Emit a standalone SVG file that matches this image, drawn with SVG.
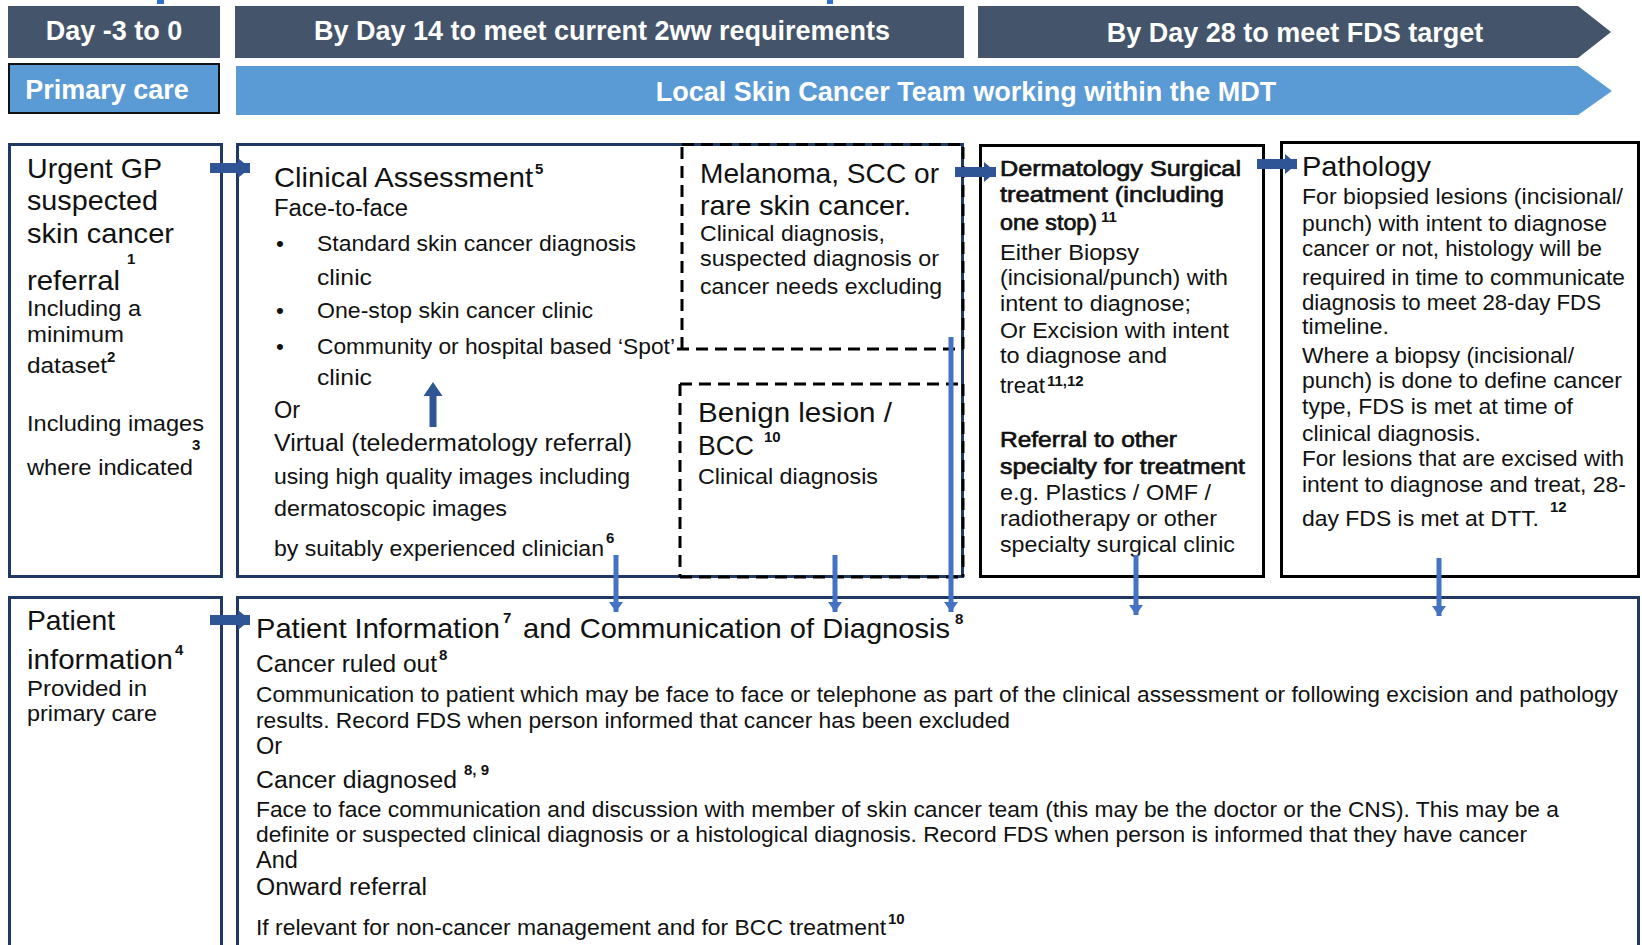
<svg xmlns="http://www.w3.org/2000/svg" width="1642" height="945" viewBox="0 0 1642 945">
  <style>
    text { font-family: "Liberation Sans", Arial, sans-serif; fill: #111111; }
    .hdr { font-size: 27px; font-weight: bold; fill: #ffffff; text-anchor: middle; }
    .h { font-size: 28px; }
    .b { font-size: 22.5px; }
    .m { font-size: 23.5px; }
    .bb { font-size: 22.5px; stroke: #111111; stroke-width: 0.7; }
    .sup { font-size: 15px; font-weight: bold; }
    .supb { font-size: 15px; font-weight: bold; }
    .navy { fill: none; stroke: #1F3864; stroke-width: 3; }
    .blk { fill: none; stroke: #000000; stroke-width: 3; }
    .dash { fill: none; stroke: #000000; stroke-width: 3; stroke-dasharray: 12 7; }
    .down { stroke: #4472C4; stroke-width: 5; fill: none; marker-end: url(#dnHead); }
    .right { stroke: #2F5597; stroke-width: 10; fill: none; marker-end: url(#rtHead); }
  </style>
  <defs>
    <marker id="dnHead" markerUnits="userSpaceOnUse" viewBox="0 0 10 14" refX="10" refY="7" markerWidth="10" markerHeight="14" orient="auto">
      <path d="M0,0 L10,7 L0,14 Z" fill="#4472C4"/>
    </marker>
    <marker id="rtHead" markerUnits="userSpaceOnUse" viewBox="0 0 12 20" refX="12" refY="10" markerWidth="12" markerHeight="20" orient="auto">
      <path d="M0,0 L12,10 L0,20 Z" fill="#2F5597"/>
    </marker>
  </defs>

  <rect width="1642" height="945" fill="#ffffff"/>

  <!-- small marks on the top edge -->
  <rect x="157" y="0" width="7" height="4" fill="#2F6FD0"/>
  <rect x="827" y="0" width="6" height="4" fill="#2F6FD0"/>

  <!-- timeline header -->
  <g id="hdr-day0">
    <rect x="8" y="6" width="212" height="52" fill="#44546A"/>
    <text class="hdr" x="114" y="40">Day -3 to 0</text>
  </g>
  <g id="hdr-day14">
    <rect x="235" y="6" width="729" height="52" fill="#44546A"/>
    <text class="hdr" x="602" y="40">By Day 14 to meet current 2ww requirements</text>
  </g>
  <g id="hdr-day28">
    <polygon points="978,6 1578,6 1611,32 1578,58 978,58" fill="#44546A"/>
    <text class="hdr" x="1295" y="42">By Day 28 to meet FDS target</text>
  </g>
  <g id="hdr-primary">
    <rect x="9" y="64" width="210" height="49" fill="#5B9BD5" stroke="#111111" stroke-width="2"/>
    <text class="hdr" x="107" y="99">Primary care</text>
  </g>
  <g id="hdr-local">
    <polygon points="236,66 1578,66 1612,91 1578,115 236,115" fill="#5B9BD5"/>
    <text class="hdr" x="966" y="101">Local Skin Cancer Team working within the MDT</text>
  </g>

  <!-- referral -->
  <g id="gp-referral">
    <rect class="navy" x="9.5" y="144.5" width="212" height="432"/>
    <text class="h" x="27" y="178" textLength="135" lengthAdjust="spacingAndGlyphs">Urgent GP</text>
    <text class="h" x="27" y="210" textLength="131" lengthAdjust="spacingAndGlyphs">suspected</text>
    <text class="h" x="27" y="243" textLength="147" lengthAdjust="spacingAndGlyphs">skin cancer</text>
    <text class="sup" x="127" y="264">1</text>
    <text class="h" x="27" y="290" textLength="93" lengthAdjust="spacingAndGlyphs">referral</text>
    <text class="b" x="27" y="316" textLength="114" lengthAdjust="spacingAndGlyphs">Including a</text>
    <text class="b" x="27" y="342" textLength="97" lengthAdjust="spacingAndGlyphs">minimum</text>
    <text class="b" x="27" y="373" textLength="80" lengthAdjust="spacingAndGlyphs">dataset</text>
    <text class="sup" x="107" y="362">2</text>
    <text class="b" x="27" y="431" textLength="177" lengthAdjust="spacingAndGlyphs">Including images</text>
    <text class="sup" x="192" y="450">3</text>
    <text class="b" x="27" y="475" textLength="166" lengthAdjust="spacingAndGlyphs">where indicated</text>
  </g>

  <!-- clinical assessment -->
  <g id="clinical-assessment">
    <rect class="navy" x="237.5" y="144.5" width="725" height="432"/>
    <text class="h" x="274" y="187" textLength="259" lengthAdjust="spacingAndGlyphs">Clinical Assessment</text>
    <text class="sup" x="535" y="174">5</text>
    <text class="m" x="274" y="216" textLength="134" lengthAdjust="spacingAndGlyphs">Face-to-face</text>
    <text class="b" x="276" y="251">•</text>
    <text class="b" x="317" y="251" textLength="319" lengthAdjust="spacingAndGlyphs">Standard skin cancer diagnosis</text>
    <text class="b" x="317" y="285" textLength="55" lengthAdjust="spacingAndGlyphs">clinic</text>
    <text class="b" x="276" y="318">•</text>
    <text class="b" x="317" y="318" textLength="276" lengthAdjust="spacingAndGlyphs">One-stop skin cancer clinic</text>
    <text class="b" x="276" y="354">•</text>
    <text class="b" x="317" y="354" textLength="358" lengthAdjust="spacingAndGlyphs">Community or hospital based ‘Spot’</text>
    <text class="b" x="317" y="385" textLength="55" lengthAdjust="spacingAndGlyphs">clinic</text>
    <text class="m" x="274" y="418">Or</text>
    <text class="m" x="274" y="451" textLength="358" lengthAdjust="spacingAndGlyphs">Virtual (teledermatology referral)</text>
    <text class="b" x="274" y="484" textLength="356" lengthAdjust="spacingAndGlyphs">using high quality images including</text>
    <text class="b" x="274" y="516" textLength="233" lengthAdjust="spacingAndGlyphs">dermatoscopic images</text>
    <text class="b" x="274" y="556" textLength="330" lengthAdjust="spacingAndGlyphs">by suitably experienced clinician</text>
    <text class="sup" x="606" y="543">6</text>
    <!-- upward arrow -->
    <path d="M429.5,427 V396 H423.5 L433,382 L442.5,396 H436.5 V427 Z" fill="#2F5597"/>
  </g>

  <!-- melanoma / scc -->
  <g id="melanoma">
    <path class="dash" d="M682,147 V349 M677,349 H963 M682,144.5 H963 M963,147 V349"/>
    <text class="h" x="700" y="183" textLength="239" lengthAdjust="spacingAndGlyphs">Melanoma,  SCC or</text>
    <text class="h" x="700" y="215" textLength="211" lengthAdjust="spacingAndGlyphs">rare skin cancer.</text>
    <text class="b" x="700" y="241" textLength="185" lengthAdjust="spacingAndGlyphs">Clinical diagnosis,</text>
    <text class="b" x="700" y="266" textLength="239" lengthAdjust="spacingAndGlyphs">suspected diagnosis or</text>
    <text class="b" x="700" y="294" textLength="242" lengthAdjust="spacingAndGlyphs">cancer needs excluding</text>
  </g>

  <!-- benign / bcc -->
  <g id="benign">
    <path class="dash" d="M680,384 H963 M680,384 V577 M680,577 H963 M963,384 V577"/>
    <text class="h" x="698" y="422" textLength="194" lengthAdjust="spacingAndGlyphs">Benign lesion  /</text>
    <text class="h" x="698" y="455" textLength="56" lengthAdjust="spacingAndGlyphs">BCC</text>
    <text class="supb" x="764" y="442">10</text>
    <text class="b" x="698" y="484" textLength="180" lengthAdjust="spacingAndGlyphs">Clinical diagnosis</text>
  </g>

  <!-- dermatology surgical treatment -->
  <g id="dermatology">
    <rect class="blk" x="980.5" y="145.5" width="283" height="431"/>
    <text class="bb" x="1000" y="176" textLength="241" lengthAdjust="spacingAndGlyphs">Dermatology Surgical</text>
    <text class="bb" x="1000" y="202" textLength="224" lengthAdjust="spacingAndGlyphs">treatment (including</text>
    <text class="bb" x="1000" y="230" textLength="97" lengthAdjust="spacingAndGlyphs">one stop)</text>
    <text class="supb" x="1101" y="222">11</text>
    <text class="b" x="1000" y="260" textLength="139" lengthAdjust="spacingAndGlyphs">Either Biopsy</text>
    <text class="b" x="1000" y="285" textLength="228" lengthAdjust="spacingAndGlyphs">(incisional/punch) with</text>
    <text class="b" x="1000" y="311" textLength="191" lengthAdjust="spacingAndGlyphs">intent to diagnose;</text>
    <text class="b" x="1000" y="338" textLength="229" lengthAdjust="spacingAndGlyphs">Or Excision with intent</text>
    <text class="b" x="1000" y="363" textLength="167" lengthAdjust="spacingAndGlyphs">to diagnose and</text>
    <text class="b" x="1000" y="393" textLength="45" lengthAdjust="spacingAndGlyphs">treat</text>
    <text class="supb" x="1047" y="386">11,12</text>
    <text class="bb" x="1000" y="447" textLength="177" lengthAdjust="spacingAndGlyphs">Referral to other</text>
    <text class="bb" x="1000" y="474" textLength="245" lengthAdjust="spacingAndGlyphs">specialty for treatment</text>
    <text class="b" x="1000" y="500" textLength="211" lengthAdjust="spacingAndGlyphs">e.g. Plastics / OMF /</text>
    <text class="b" x="1000" y="526" textLength="217" lengthAdjust="spacingAndGlyphs">radiotherapy or other</text>
    <text class="b" x="1000" y="552" textLength="235" lengthAdjust="spacingAndGlyphs">specialty surgical clinic</text>
  </g>

  <!-- pathology -->
  <g id="pathology">
    <rect class="blk" x="1281.5" y="142.5" width="357" height="434"/>
    <text class="h" x="1302" y="176" textLength="129" lengthAdjust="spacingAndGlyphs">Pathology</text>
    <text class="b" x="1302" y="204" textLength="321" lengthAdjust="spacingAndGlyphs">For biopsied lesions (incisional/</text>
    <text class="b" x="1302" y="231" textLength="305" lengthAdjust="spacingAndGlyphs">punch) with intent to diagnose</text>
    <text class="b" x="1302" y="256" textLength="300" lengthAdjust="spacingAndGlyphs">cancer or not, histology will be</text>
    <text class="b" x="1302" y="285" textLength="323" lengthAdjust="spacingAndGlyphs">required in time to communicate</text>
    <text class="b" x="1302" y="310" textLength="299" lengthAdjust="spacingAndGlyphs">diagnosis to meet 28-day FDS</text>
    <text class="b" x="1302" y="334" textLength="87" lengthAdjust="spacingAndGlyphs">timeline.</text>
    <text class="b" x="1302" y="363" textLength="272" lengthAdjust="spacingAndGlyphs">Where a biopsy (incisional/</text>
    <text class="b" x="1302" y="388" textLength="320" lengthAdjust="spacingAndGlyphs">punch) is done to define cancer</text>
    <text class="b" x="1302" y="414" textLength="271" lengthAdjust="spacingAndGlyphs">type, FDS is met at time of</text>
    <text class="b" x="1302" y="441" textLength="179" lengthAdjust="spacingAndGlyphs">clinical diagnosis.</text>
    <text class="b" x="1302" y="466" textLength="322" lengthAdjust="spacingAndGlyphs">For lesions that are excised with</text>
    <text class="b" x="1302" y="492" textLength="324" lengthAdjust="spacingAndGlyphs">intent to diagnose and treat, 28-</text>
    <text class="b" x="1302" y="526" textLength="237" lengthAdjust="spacingAndGlyphs">day FDS is met at DTT.</text>
    <text class="supb" x="1550" y="512">12</text>
  </g>

  <!-- patient information in primary care -->
  <g id="patient-info-primary">
    <rect class="navy" x="9.5" y="597.5" width="212" height="360"/>
    <text class="h" x="27" y="630" textLength="88" lengthAdjust="spacingAndGlyphs">Patient</text>
    <text class="h" x="27" y="669" textLength="146" lengthAdjust="spacingAndGlyphs">information</text>
    <text class="sup" x="175" y="655">4</text>
    <text class="b" x="27" y="696" textLength="120" lengthAdjust="spacingAndGlyphs">Provided in</text>
    <text class="b" x="27" y="721" textLength="130" lengthAdjust="spacingAndGlyphs">primary care</text>
  </g>

  <!-- communication of diagnosis -->
  <g id="communication">
    <rect class="navy" x="237.5" y="597.5" width="1401" height="360"/>
    <text class="h" x="256" y="638" textLength="244" lengthAdjust="spacingAndGlyphs">Patient Information</text>
    <text class="sup" x="503" y="623">7</text>
    <text class="h" x="523" y="638" textLength="427" lengthAdjust="spacingAndGlyphs">and  Communication  of  Diagnosis</text>
    <text class="sup" x="955" y="624">8</text>
    <text class="m" x="256" y="672" textLength="181" lengthAdjust="spacingAndGlyphs">Cancer ruled out</text>
    <text class="sup" x="439" y="660">8</text>
    <text class="b" x="256" y="702" textLength="1362" lengthAdjust="spacingAndGlyphs">Communication to patient which may be face to face or telephone as part of the clinical assessment or following excision and pathology</text>
    <text class="b" x="256" y="728" textLength="754" lengthAdjust="spacingAndGlyphs">results. Record FDS when person informed that cancer has been excluded</text>
    <text class="m" x="256" y="754">Or</text>
    <text class="m" x="256" y="788" textLength="201" lengthAdjust="spacingAndGlyphs">Cancer diagnosed</text>
    <text class="sup" x="464" y="775">8, 9</text>
    <text class="b" x="256" y="817" textLength="1303" lengthAdjust="spacingAndGlyphs">Face to face communication and discussion with member of skin cancer team (this may be the doctor or the CNS). This may be a</text>
    <text class="b" x="256" y="842" textLength="1271" lengthAdjust="spacingAndGlyphs">definite or suspected clinical diagnosis or a histological diagnosis. Record FDS when person is informed that they have cancer</text>
    <text class="m" x="256" y="868">And</text>
    <text class="m" x="256" y="895" textLength="171" lengthAdjust="spacingAndGlyphs">Onward referral</text>
    <text class="b" x="256" y="935" textLength="630" lengthAdjust="spacingAndGlyphs">If relevant for non-cancer management and for BCC treatment</text>
    <text class="sup" x="888" y="924">10</text>
  </g>

  <!-- connectors -->
  <g id="connectors">
    <line class="right" x1="210" y1="168" x2="250" y2="168"/>
    <line class="right" x1="955" y1="172" x2="996" y2="172"/>
    <line class="right" x1="1257" y1="164" x2="1297" y2="164"/>
    <line class="right" x1="210" y1="620" x2="250" y2="620"/>
    <line class="down" x1="616" y1="555" x2="616" y2="612"/>
    <line class="down" x1="835" y1="555" x2="835" y2="612"/>
    <line class="down" x1="951" y1="337" x2="951" y2="612"/>
    <line class="down" x1="1136" y1="555" x2="1136" y2="615"/>
    <line class="down" x1="1439" y1="558" x2="1439" y2="616"/>
  </g>
</svg>
